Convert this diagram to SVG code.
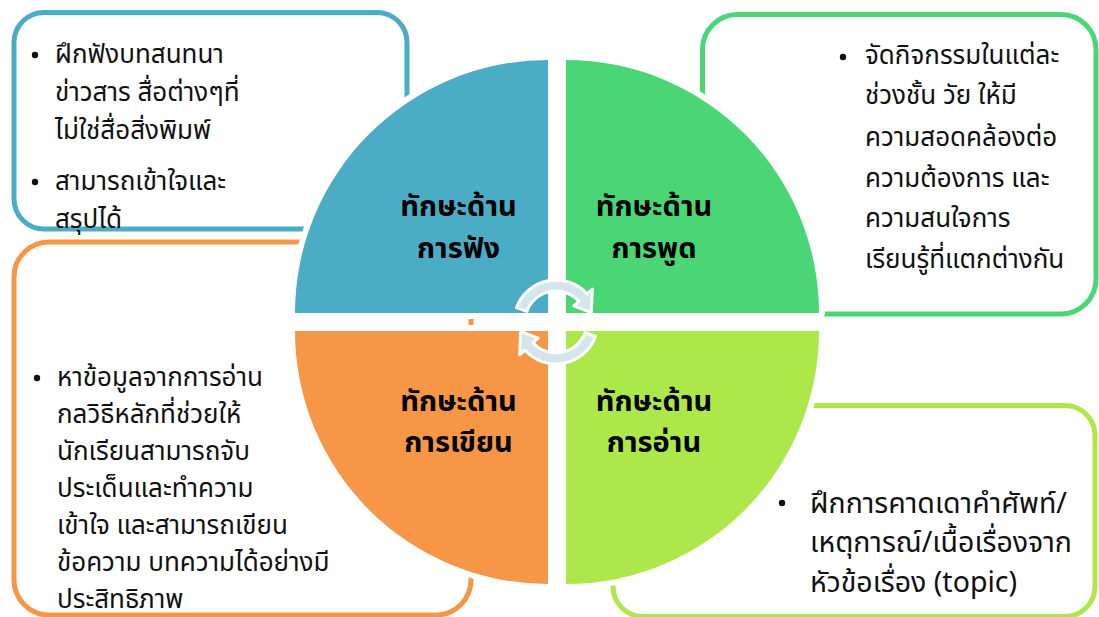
<svg xmlns="http://www.w3.org/2000/svg" width="1099" height="617" viewBox="0 0 1099 617">
<style>
.box{fill:#fff;stroke-width:5}
.halo{fill:#fff;stroke:#fff;stroke-width:12;stroke-linejoin:round}
.t{font-family:"Noto Sans Thai","Noto Sans Thai Looped","Leelawadee UI",Tahoma,"Noto Sans",sans-serif;font-size:26px;fill:#111}
.tr{font-size:28.5px}
.lb{font-family:"Noto Sans Thai","Noto Sans Thai Looped","Leelawadee UI",Tahoma,"Noto Sans",sans-serif;font-size:29px;font-weight:bold;fill:#000;text-anchor:middle}
.arr{fill:#D5E5EC;stroke:#fff;stroke-width:3;stroke-linejoin:round}
</style>
<rect width="1099" height="617" fill="#fff"/>
<g id="box-listen"><rect class="box" x="14" y="12.5" width="393" height="216.5" rx="30" stroke="#4BACC6"/></g>
<g id="box-speak"><rect class="box" x="702.5" y="14.5" width="393.5" height="299.5" rx="35" stroke="#4AD675"/></g>
<g id="box-write"><rect class="box" x="14" y="242" width="457" height="373" rx="35" stroke="#F79646"/></g>
<g id="box-read"><rect class="box" x="613" y="405.5" width="482" height="211" rx="30" stroke="#ADE84A"/></g>
<g id="halo">
<path class="halo" d="M548,313 L295,313 A253,253 0 0 1 548,60 Z"/>
<path class="halo" d="M566,313 L566,60 A253,253 0 0 1 819,313 Z"/>
<path class="halo" d="M548,331 L548,584 A253,253 0 0 1 295,331 Z"/>
<path class="halo" d="M566,331 L819,331 A253,253 0 0 1 566,584 Z"/>
</g>
<g id="q-listen"><path d="M548,313 L295,313 A253,253 0 0 1 548,60 Z" fill="#4BACC6"/>
<text class="lb" x="458.5" y="216">ทักษะด้าน</text><text class="lb" x="458.5" y="258">การฟัง</text></g>
<g id="q-speak"><path d="M566,313 L566,60 A253,253 0 0 1 819,313 Z" fill="#4AD675"/>
<text class="lb" x="654" y="216">ทักษะด้าน</text><text class="lb" x="654" y="258">การพูด</text></g>
<g id="q-write"><path d="M548,331 L548,584 A253,253 0 0 1 295,331 Z" fill="#F79646"/>
<text class="lb" x="458.5" y="411">ทักษะด้าน</text><text class="lb" x="458.5" y="452">การเขียน</text></g>
<g id="q-read"><path d="M566,331 L819,331 A253,253 0 0 1 566,584 Z" fill="#ADE84A"/>
<text class="lb" x="654" y="411">ทักษะด้าน</text><text class="lb" x="654" y="452">การอ่าน</text></g>
<g id="connectors">
<path class="arr" d="M516.5,307.6 A42,42 0 0 1 587.2,293.9 L592.4,289.2 L591.3,312.6 L573.8,305.9 L579,301.3 A31,31 0 0 0 526.9,311.4 Z"/>
<path class="arr" transform="rotate(180 556 322)" d="M516.5,307.6 A42,42 0 0 1 587.2,293.9 L592.4,289.2 L591.3,312.6 L573.8,305.9 L579,301.3 A31,31 0 0 0 526.9,311.4 Z"/>
</g>
<g id="text-listen">
<circle cx="35" cy="55" r="3.2" fill="#111"/><circle cx="35" cy="182" r="3.2" fill="#111"/>
<text class="t" x="55" y="63">ฝึกฟังบทสนทนา</text>
<text class="t" x="55" y="101">ข่าวสาร สื่อต่างๆที่</text>
<text class="t" x="55" y="139">ไม่ใช่สื่อสิ่งพิมพ์</text>
<text class="t" x="55" y="190">สามารถเข้าใจและ</text>
<text class="t" x="55" y="228">สรุปได้</text>
</g>
<g id="text-speak">
<circle cx="843" cy="57" r="3.2" fill="#111"/>
<text class="t" x="865" y="64">จัดกิจกรรมในแต่ละ</text>
<text class="t" x="865" y="104">ช่วงชั้น วัย ให้มี</text>
<text class="t" x="865" y="146">ความสอดคล้องต่อ</text>
<text class="t" x="865" y="187">ความต้องการ และ</text>
<text class="t" x="865" y="227">ความสนใจการ</text>
<text class="t" x="865" y="268">เรียนรู้ที่แตกต่างกัน</text>
</g>
<g id="text-write">
<circle cx="37" cy="378" r="3.2" fill="#111"/>
<text class="t" x="57" y="386">หาข้อมูลจากการอ่าน</text>
<text class="t" x="57" y="423">กลวิธีหลักที่ช่วยให้</text>
<text class="t" x="57" y="460">นักเรียนสามารถจับ</text>
<text class="t" x="57" y="497">ประเด็นและทำความ</text>
<text class="t" x="57" y="534">เข้าใจ และสามารถเขียน</text>
<text class="t" x="57" y="571">ข้อความ บทความได้อย่างมี</text>
<text class="t" x="57" y="608">ประสิทธิภาพ</text>
</g>
<g id="text-read">
<circle cx="782" cy="503" r="3.2" fill="#111"/>
<text class="t tr" x="810" y="513">ฝึกการคาดเดาคำศัพท์/</text>
<text class="t tr" x="810" y="552">เหตุการณ์/เนื้อเรื่องจาก</text>
<text class="t tr" x="810" y="592">หัวข้อเรื่อง (topic)</text>
</g>
</svg>
